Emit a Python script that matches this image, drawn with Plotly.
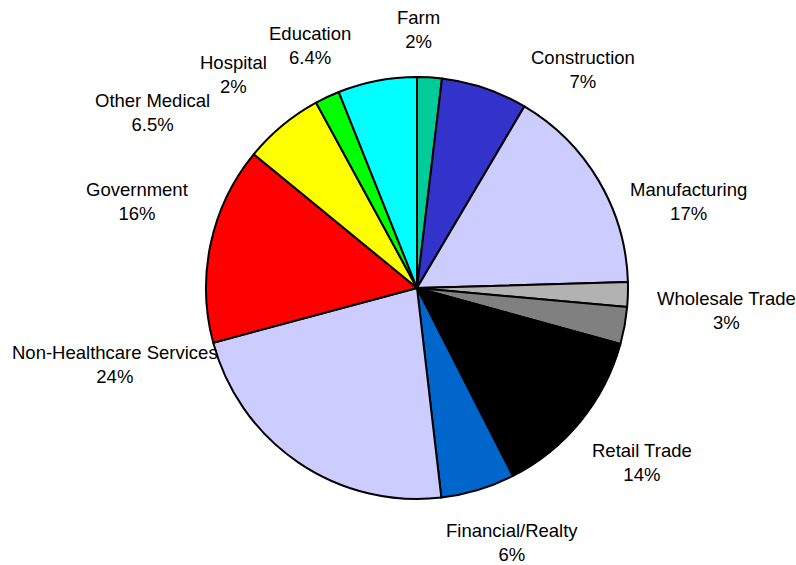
import plotly.graph_objects as go

# ---- data ----
categories = ["Farm", "Construction", "Manufacturing", "", "Wholesale Trade",
              "Retail Trade", "Financial/Realty", "Non-Healthcare Services",
              "Government", "Other Medical", "Hospital", "Education"]
values = [2, 7, 17, 2, 3, 14, 6, 24, 16, 6.5, 2, 6.4]
pct_labels = ["2%", "7%", "17%", "", "3%", "14%", "6%", "24%", "16%", "6.5%", "2%", "6.4%"]

# ---- styles ----
colors = ["#00CC99", "#3333CC", "#CCCCFF", "#B2B2B2", "#808080", "#000000",
          "#0066CC", "#CCCCFF", "#FF0000", "#FFFF00", "#00FF00", "#00FFFF"]

W, H = 796, 565
CX, CY, R = 417, 288, 211

# label centres (pixels) for the outside text labels
label_pos = [(418, 30), (583, 69), (688, 201), None, (726, 310),
             (642, 462), (512, 542), (115, 364), (137, 201),
             (152, 113), (233, 75), (310, 45)]

pie_ids = [c if c else "(unlabeled)" for c in categories]

fig = go.Figure(go.Pie(
    labels=pie_ids,
    values=values,
    sort=False,
    direction="clockwise",
    rotation=0,
    marker=dict(colors=colors, line=dict(color="#000000", width=2)),
    textinfo="none",
    hoverinfo="label+value",
    domain=dict(x=[(CX - R) / W, (CX + R) / W],
                y=[(H - CY - R) / H, (H - CY + R) / H]),
))

annotations = []
for cat, pct, pos in zip(categories, pct_labels, label_pos):
    if not cat or pos is None:
        continue
    annotations.append(dict(
        x=pos[0] / W, y=1 - pos[1] / H, xref="paper", yref="paper",
        text=f"{cat}<br>{pct}", showarrow=False,
        xanchor="center", yanchor="middle", align="center",
        font=dict(family="Liberation Sans, Arial, sans-serif", size=18.5, color="#000000"),
    ))

fig.update_layout(
    width=W, height=H,
    margin=dict(l=0, r=0, t=0, b=0),
    paper_bgcolor="#FFFFFF", plot_bgcolor="#FFFFFF",
    showlegend=False,
    annotations=annotations,
)

fig.write_html("out.html",
               config={"displayModeBar": False},
               post_script="document.body.style.margin='0';document.body.style.overflow='hidden';")
